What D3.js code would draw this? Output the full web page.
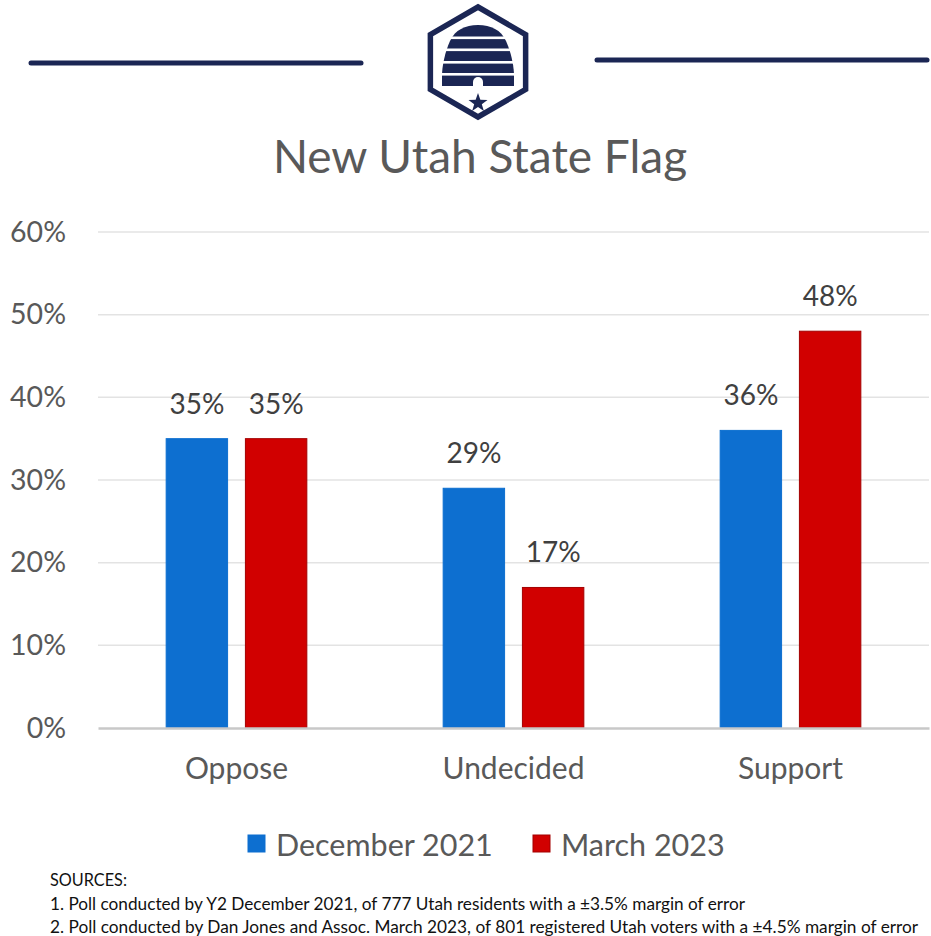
<!DOCTYPE html>
<html>
<head>
<meta charset="utf-8">
<script src="https://cdn.jsdelivr.net/npm/d3@7"></script>
<style>
  body { margin: 0; background: #fff; }
  svg { display: block; font-family: Lato, "Open Sans", sans-serif; }
</style>
</head>
<body>
<script>
// chart data
var categories = ['Oppose', 'Undecided', 'Support'];
var seriesNames = ['December 2021', 'March 2023'];
var dec2021 = [35, 29, 36];
var mar2023 = [35, 17, 48];
var yTicks = [0, 10, 20, 30, 40, 50, 60];
var sources = [
  'SOURCES:',
  '1. Poll conducted by Y2 December 2021, of 777 Utah residents with a \u00b13.5% margin of error',
  '2. Poll conducted by Dan Jones and Assoc. March 2023, of 801 registered Utah voters with a \u00b14.5% margin of error'
];

var W = 931, H = 936;
var navy = '#1b2654';
var gray = '#595959';
var colors = { 'December 2021': '#0d6fd0', 'March 2023': '#d10000' };
var strokes = { 'December 2021': '#0d6fd0', 'March 2023': '#a30000' };

var svg = d3.select('body').append('svg').attr('width', W).attr('height', H);

// header rules + logo
svg.append('line').attr('x1', 31).attr('x2', 361).attr('y1', 63).attr('y2', 63)
  .attr('stroke', navy).attr('stroke-width', 5).attr('stroke-linecap', 'round');
svg.append('line').attr('x1', 597).attr('x2', 927).attr('y1', 60).attr('y2', 60)
  .attr('stroke', navy).attr('stroke-width', 5).attr('stroke-linecap', 'round');

var logo = svg.append('g').attr('transform', 'translate(478,62)');
var hex = d3.range(6).map(function(i) {
  var a = Math.PI / 3 * i - Math.PI / 2;
  return [55 * Math.cos(a), 55 * Math.sin(a)];
});
logo.append('path').attr('d', 'M' + hex.join('L') + 'Z')
  .attr('fill', 'none').attr('stroke', navy).attr('stroke-width', 5.5).attr('stroke-linejoin', 'miter');

// beehive: one dome shape cut by white stripes
logo.append('path')
  .attr('d', 'M-36,24 L-36,14 C-36,4 -33,-10 -28,-21 C-23,-32 -13,-37 0,-37 ' +
             'C13,-37 23,-32 28,-21 C33,-10 36,4 36,14 L36,24 Z')
  .attr('fill', navy);
[-25.5, -13.5, -1, 11].forEach(function(yy) {
  logo.append('rect').attr('x', -40).attr('y', yy).attr('width', 80).attr('height', 2.6).attr('fill', '#fff');
});
logo.append('path').attr('d', 'M-5,25 L-5,20 A5,5 0 0 1 5,20 L5,25 Z').attr('fill', '#fff');
var star = d3.range(10).map(function(i) {
  var a = Math.PI / 5 * i - Math.PI / 2;
  var r = i % 2 ? 4 : 10;
  return [r * Math.cos(a), 41 + r * Math.sin(a)];
});
logo.append('path').attr('d', 'M' + star.join('L') + 'Z').attr('fill', navy);

// title
svg.append('text').attr('x', 480).attr('y', 173).attr('text-anchor', 'middle')
  .attr('font-size', 46).attr('fill', gray).text('New Utah State Flag');

// scales
var x = d3.scaleBand().domain(categories).range([98, 929]);
var x1 = d3.scaleBand().domain(seriesNames).range([0, x.bandwidth()])
  .paddingInner(0.225).paddingOuter(0.86);
var y = d3.scaleLinear().domain([0, 60]).range([728, 232]);

// gridlines
svg.append('g').selectAll('line').data(yTicks.slice(1)).join('line')
  .attr('x1', 98).attr('x2', 929)
  .attr('y1', function(d) { return y(d); }).attr('y2', function(d) { return y(d); })
  .attr('stroke', '#e3e3e3').attr('stroke-width', 1.5);

// y axis labels
var yAxis = svg.append('g').attr('transform', 'translate(66,0)')
  .call(d3.axisLeft(y).tickValues(yTicks).tickSize(0).tickPadding(0)
    .tickFormat(function(d) { return d + '%'; }));
yAxis.select('.domain').remove();
yAxis.selectAll('text').attr('font-size', 28.5).attr('fill', gray)
  .attr('font-family', 'Lato, sans-serif');

// bars
var rowsData = categories.map(function(c, i) {
  return { cat: c, vals: [{ s: seriesNames[0], v: dec2021[i] }, { s: seriesNames[1], v: mar2023[i] }] };
});
var groups = svg.append('g').selectAll('g').data(rowsData).join('g')
  .attr('transform', function(d) { return 'translate(' + x(d.cat) + ',0)'; });
groups.selectAll('rect').data(function(d) { return d.vals; }).join('rect')
  .attr('x', function(d) { return x1(d.s); })
  .attr('width', x1.bandwidth())
  .attr('y', function(d) { return y(d.v); })
  .attr('height', function(d) { return y(0) - y(d.v); })
  .attr('fill', function(d) { return colors[d.s]; })
  .attr('stroke', function(d) { return strokes[d.s]; })
  .attr('stroke-width', 1);
groups.selectAll('text').data(function(d) { return d.vals; }).join('text')
  .attr('x', function(d) { return x1(d.s) + x1.bandwidth() / 2; })
  .attr('y', function(d) { return y(d.v) - 25; })
  .attr('text-anchor', 'middle').attr('font-size', 28).attr('fill', '#404040')
  .text(function(d) { return d.v + '%'; });

// x axis
var xAxis = svg.append('g').attr('transform', 'translate(0,728)')
  .call(d3.axisBottom(x).tickSize(0).tickPadding(30));
xAxis.select('.domain').attr('stroke', '#c8c8c8').attr('stroke-width', 2.5);
xAxis.selectAll('text').attr('font-size', 30).attr('fill', gray)
  .attr('font-family', 'Lato, sans-serif');

// legend
var legendX = [248, 533];
var legend = svg.append('g').selectAll('g').data(seriesNames).join('g')
  .attr('transform', function(d, i) { return 'translate(' + legendX[i] + ',835)'; });
legend.append('rect').attr('width', 17).attr('height', 17)
  .attr('fill', function(d) { return colors[d]; })
  .attr('stroke', function(d) { return strokes[d]; });
legend.append('text').attr('x', 28).attr('y', 21).attr('font-size', 30.5).attr('fill', gray)
  .text(function(d) { return d; });

// sources
var srcLen = [77, 695, 868];
svg.append('g').selectAll('text').data(sources).join('text')
  .attr('x', 50).attr('y', function(d, i) { return 886 + i * 23.5; })
  .attr('font-size', 17).attr('fill', '#111')
  .attr('textLength', function(d, i) { return srcLen[i]; })
  .attr('lengthAdjust', 'spacingAndGlyphs')
  .text(function(d) { return d; });
</script>
</body>
</html>
